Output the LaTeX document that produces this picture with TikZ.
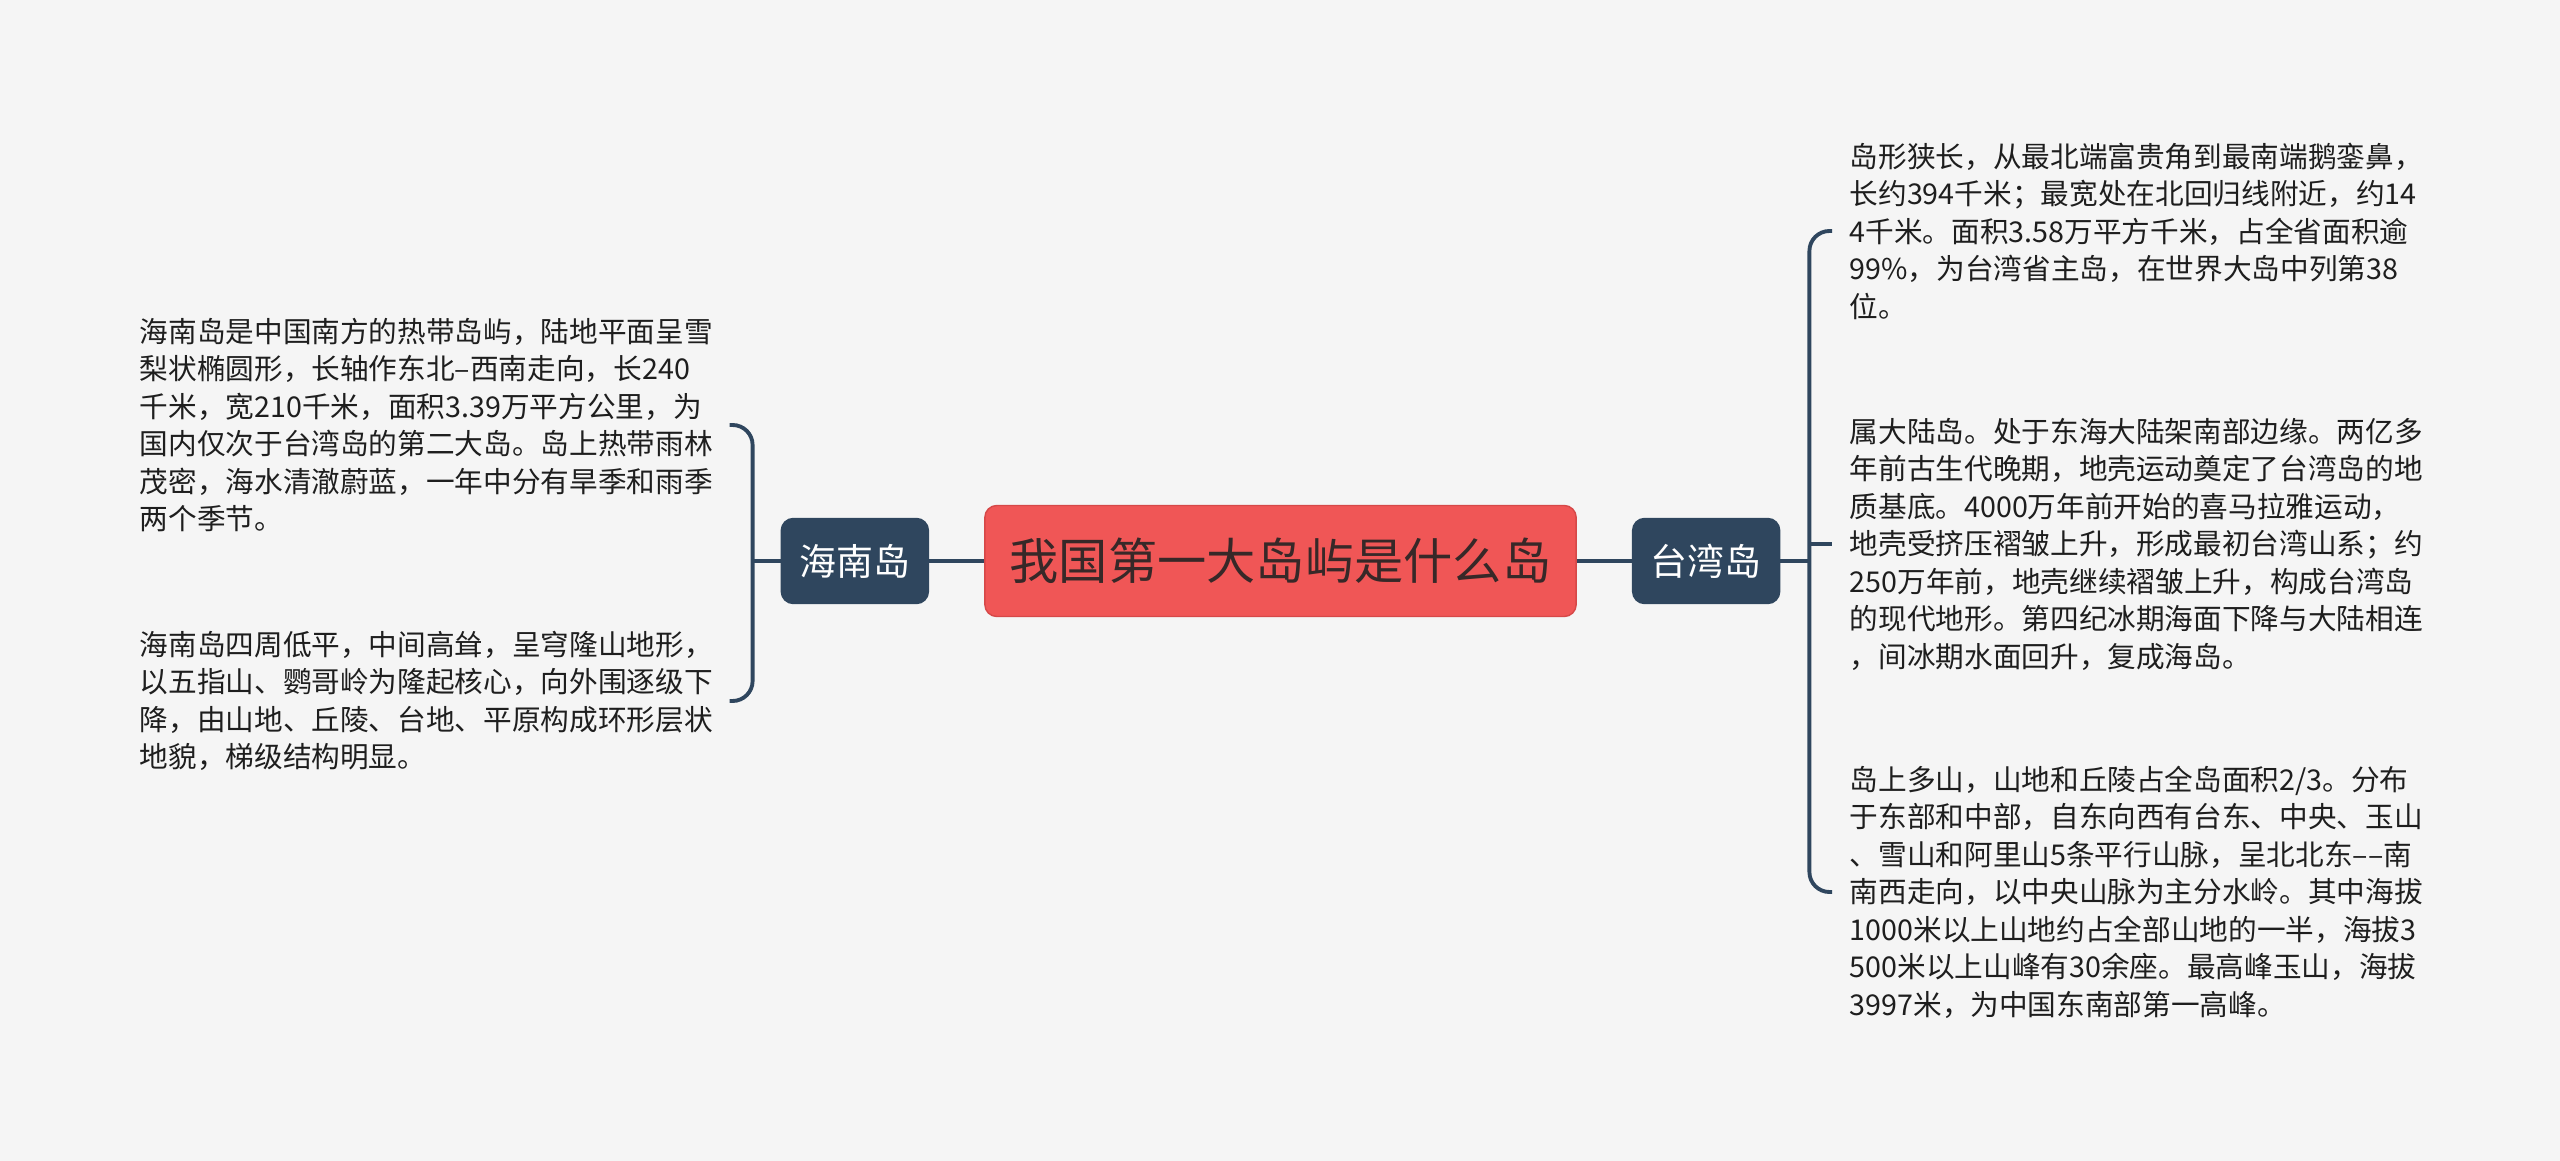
\documentclass[tikz,border=0pt]{standalone}
\usepackage{fontspec}
\setmainfont{Noto Sans CJK SC}
\usepackage{tikz}
\usetikzlibrary{positioning,calc}
\definecolor{bggray}{RGB}{245,245,245}
\definecolor{titlered}{RGB}{240,86,86}
\definecolor{titleedge}{RGB}{214,72,72}
\definecolor{titletext}{RGB}{55,40,40}
\definecolor{slate}{RGB}{47,70,94}
\definecolor{bodytext}{RGB}{30,30,30}

\begin{document}
\begin{tikzpicture}[x=0.01cm, y=-0.01cm,
    node distance=0.55cm,
    root/.style={rectangle, rounded corners=0.12cm, fill=titlered, draw=titleedge, line width=0.4pt, inner sep=2pt, minimum width=5.91cm, minimum height=1.11cm, text=titletext, font=\fontsize{14pt}{17pt}\selectfont},
    branch/.style={rectangle, rounded corners=0.12cm, fill=slate, draw=slate, minimum width=1.47cm, minimum height=0.85cm, text=white, font=\fontsize{10.5pt}{12pt}\selectfont},
    leaf/.style={text width=5.75cm, align=left, inner sep=0pt, text=bodytext, font=\fontsize{8.15pt}{10.67pt}\selectfont},
    link/.style={draw=slate, line width=1.1pt}
  ]
  \useasboundingbox[fill=bggray] (0,0) rectangle (2560,1161);
  \node[root] (root) at (1280.5,561) {我国第一大岛屿是什么岛};
  \node[branch, left=of root] (hainan) {海南岛};
  \node[branch, right=of root] (taiwan) {台湾岛};
  \node[leaf, anchor=west] (hn1) at (139,425) {海南岛是中国南方的热带岛屿，陆地平面呈雪\\梨状椭圆形，长轴作东北–西南走向，长240\\千米，宽210千米，面积3.39万平方公里，为\\国内仅次于台湾岛的第二大岛。岛上热带雨林\\茂密，海水清澈蔚蓝，一年中分有旱季和雨季\\两个季节。};
  \node[leaf, anchor=west] (hn2) at (139,701) {海南岛四周低平，中间高耸，呈穹隆山地形，\\以五指山、鹦哥岭为隆起核心，向外围逐级下\\降，由山地、丘陵、台地、平原构成环形层状\\地貌，梯级结构明显。};
  \node[leaf, anchor=west] (tw1) at (1849,231) {岛形狭长，从最北端富贵角到最南端鹅銮鼻，\\长约394千米；最宽处在北回归线附近，约14\\4千米。面积3.58万平方千米，占全省面积逾\\99\%，为台湾省主岛，在世界大岛中列第38\\位。};
  \node[leaf, anchor=west] (tw2) at (1849,544) {属大陆岛。处于东海大陆架南部边缘。两亿多\\年前古生代晚期，地壳运动奠定了台湾岛的地\\质基底。4000万年前开始的喜马拉雅运动，\\地壳受挤压褶皱上升，形成最初台湾山系；约\\250万年前，地壳继续褶皱上升，构成台湾岛\\的现代地形。第四纪冰期海面下降与大陆相连\\，间冰期水面回升，复成海岛。};
  \node[leaf, anchor=west] (tw3) at (1849,892) {岛上多山，山地和丘陵占全岛面积2/3。分布\\于东部和中部，自东向西有台东、中央、玉山\\、雪山和阿里山5条平行山脉，呈北北东––南\\南西走向，以中央山脉为主分水岭。其中海拔\\1000米以上山地约占全部山地的一半，海拔3\\500米以上山峰有30余座。最高峰玉山，海拔\\3997米，为中国东南部第一高峰。};
  \coordinate (lfork) at ($(hainan.west)+(-28,0)$);
  \coordinate (rfork) at ($(taiwan.east)+(29,0)$);
  \draw[link] (root) -- (hainan);
  \draw[link] (root) -- (taiwan);
  \draw[link] (hainan) -- (lfork);
  \draw[link] (taiwan) -- (rfork);
  \draw[link, rounded corners=0.2cm] ($(hn1.east)+(14,0)$) -| (lfork) |- ($(hn2.east)+(14,0)$);
  \draw[link, rounded corners=0.2cm] ($(tw1.west)+(-17,0)$) -| (rfork) |- ($(tw3.west)+(-17,0)$);
  \draw[link] (rfork |- tw2.west) -- ($(tw2.west)+(-17,0)$);
\end{tikzpicture}
\end{document}
